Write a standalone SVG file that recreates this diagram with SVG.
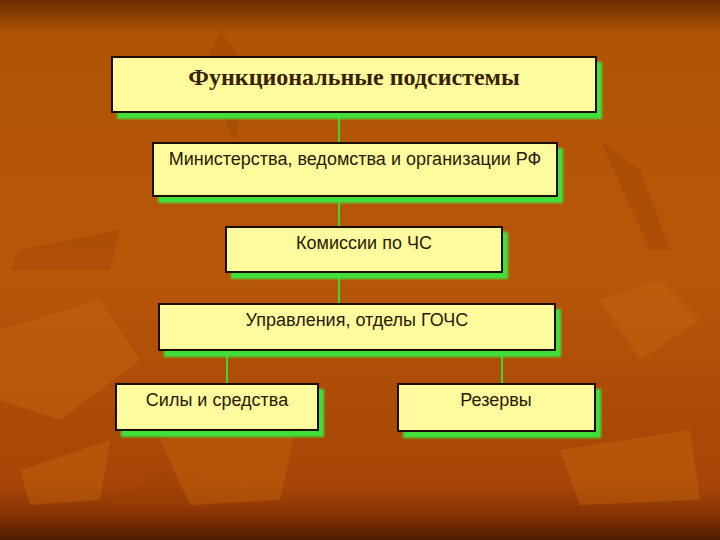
<svg xmlns="http://www.w3.org/2000/svg" width="720" height="540" viewBox="0 0 720 540">
<defs>
<linearGradient id="bg" x1="0" y1="0" x2="0" y2="1">
<stop offset="0" stop-color="#6a2c00"/>
<stop offset="0.06" stop-color="#b05404"/>
<stop offset="0.5" stop-color="#b8560a"/>
<stop offset="0.9" stop-color="#a64506"/>
<stop offset="0.95" stop-color="#8a3404"/>
<stop offset="1" stop-color="#4e1c00"/>
</linearGradient>
<filter id="blur" x="-10%" y="-10%" width="120%" height="130%"><feGaussianBlur stdDeviation="1.2"/></filter>
<style>
.box{fill:#fefb9f;stroke:#1a0d00;stroke-width:2}
.sh{fill:#3fe03a;filter:url(#blur)}
.t{font-family:"Liberation Sans",Arial,sans-serif;font-size:18px;fill:#2a1a00;text-anchor:middle}
.title{font-family:"Liberation Serif","Times New Roman",serif;font-size:24px;font-weight:bold;fill:#3a2200;text-anchor:middle}
.c{stroke:#3fd63a;stroke-width:2;fill:none}
.leafd{fill:#9c4004;opacity:0.35}
.leafl{fill:#c8680e;opacity:0.4}
</style>
</defs>
<rect x="0" y="0" width="720" height="540" fill="url(#bg)"/>
<g id="bg-leaves">
<path class="leafd" d="M200 75 L220 30 L250 70 L235 140 Z"/>
<path class="leafd" d="M20 250 L120 230 L110 270 L10 270 Z"/>
<path class="leafl" d="M0 330 L100 300 L140 360 L60 420 L0 400 Z"/>
<path class="leafl" d="M20 470 L110 440 L100 500 L30 505 Z"/>
<path class="leafd" d="M100 510 L160 470 L260 490 L300 505 Z"/>
<path class="leafl" d="M160 440 L300 410 L280 500 L190 505 Z"/>
<path class="leafl" d="M600 300 L660 280 L700 320 L640 360 Z"/>
<path class="leafd" d="M600 140 L640 170 L670 250 L650 250 Z"/>
<path class="leafl" d="M560 450 L690 430 L700 500 L580 505 Z"/>
</g>
<g id="connectors">
<line class="c" x1="339" y1="113" x2="339" y2="143"/>
<line class="c" x1="339" y1="197" x2="339" y2="227"/>
<line class="c" x1="339" y1="273" x2="339" y2="304"/>
<line class="c" x1="227" y1="351" x2="227" y2="384"/>
<line class="c" x1="502" y1="351" x2="502" y2="384"/>
</g>
<g id="n1">
<rect class="sh" x="117" y="62" width="485" height="57"/>
<rect class="box" x="112" y="57" width="484" height="55"/>
<text class="title" x="354" y="85">Функциональные подсистемы</text>
</g>
<g id="n2">
<rect class="sh" x="158" y="148" width="405" height="55"/>
<rect class="box" x="153" y="143" width="404" height="53"/>
<text class="t" x="355" y="165">Министерства, ведомства и организации РФ</text>
</g>
<g id="n3">
<rect class="sh" x="231" y="232" width="277" height="47"/>
<rect class="box" x="226" y="227" width="276" height="45"/>
<text class="t" x="364" y="249">Комиссии по ЧС</text>
</g>
<g id="n4">
<rect class="sh" x="164" y="309" width="397" height="48"/>
<rect class="box" x="159" y="304" width="396" height="46"/>
<text class="t" x="357" y="326">Управления, отделы ГОЧС</text>
</g>
<g id="n5">
<rect class="sh" x="121" y="389" width="203" height="48"/>
<rect class="box" x="116" y="384" width="202" height="46"/>
<text class="t" x="217" y="406">Силы и средства</text>
</g>
<g id="n6">
<rect class="sh" x="403" y="389" width="198" height="49"/>
<rect class="box" x="398" y="384" width="197" height="47"/>
<text class="t" x="496" y="406">Резервы</text>
</g>
</svg>
